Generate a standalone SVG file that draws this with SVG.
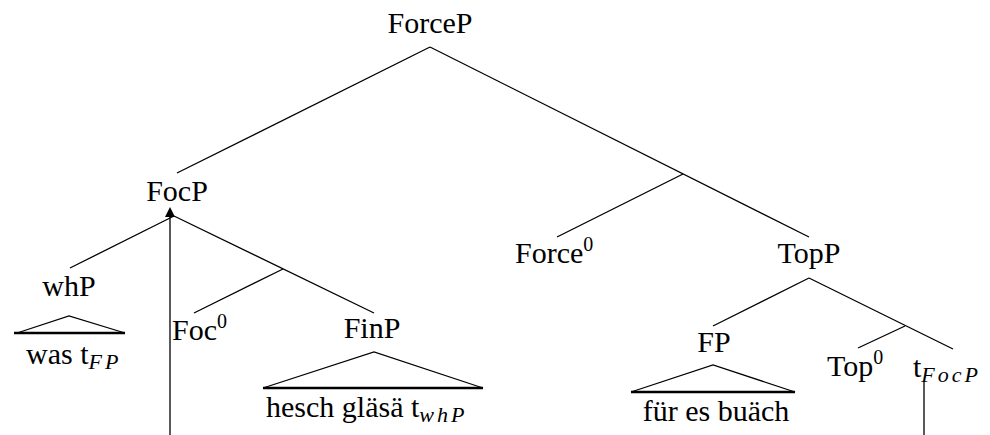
<svg xmlns="http://www.w3.org/2000/svg" width="990" height="435" viewBox="0 0 990 435">
<style>
text{font-size:30px;fill:#000;font-family:'Liberation Serif','Times New Roman',serif}
.sup{font-size:20px}
.sub{font-size:22px;font-style:italic;letter-spacing:3px}
line,polyline{stroke:#000;stroke-width:1.3;fill:none}
.base{stroke-width:2.4}
</style>
<rect width="990" height="435" fill="#fff"/>
<g id="connectors">
<line x1="430" y1="47" x2="177" y2="173"/>
<line x1="430" y1="47" x2="809" y2="237"/>
<line x1="683" y1="174" x2="557" y2="237"/>
<line x1="174" y1="216" x2="70" y2="268"/>
<line x1="174" y1="216" x2="374" y2="313"/>
<line x1="283" y1="269" x2="194" y2="313"/>
<line x1="809" y1="278" x2="713" y2="326"/>
<line x1="809" y1="278" x2="953" y2="349"/>
<line x1="905" y1="326" x2="858" y2="348"/>
<line x1="170" y1="435" x2="170" y2="214"/>
<polygon points="170,207 165,217 175,217" fill="#000"/>
<line x1="924" y1="382" x2="924" y2="435"/>
</g>
<g id="ForceP"><text x="430" y="33" text-anchor="middle">ForceP</text></g>
<g id="FocP"><text x="177" y="201" text-anchor="middle">FocP</text></g>
<g id="whP">
<text x="69" y="296" text-anchor="middle">whP</text>
<polyline points="17,333 69,316 125,333"/>
<line class="base" x1="14" y1="333" x2="125" y2="333"/>
<text x="26" y="364">was t<tspan class="sub" dy="5">FP</tspan></text>
</g>
<g id="Foc0"><text x="172" y="340">Foc<tspan class="sup" dy="-12">0</tspan></text></g>
<g id="FinP">
<text x="372" y="338" text-anchor="middle">FinP</text>
<polyline points="263,388 374,352 483,388"/>
<line class="base" x1="263" y1="388" x2="483" y2="388"/>
<text x="266" y="417">hesch gläsä t<tspan class="sub" dy="5">whP</tspan></text>
</g>
<g id="Force0"><text x="515" y="263">Force<tspan class="sup" dy="-12">0</tspan></text></g>
<g id="TopP"><text x="809" y="263" text-anchor="middle">TopP</text></g>
<g id="FP">
<text x="714" y="352" text-anchor="middle">FP</text>
<polyline points="631,392 713,365 795,392"/>
<line class="base" x1="631" y1="392" x2="795" y2="392"/>
<text x="716" y="421" text-anchor="middle">für es buäch</text>
</g>
<g id="Top0"><text x="827" y="376">Top<tspan class="sup" dy="-12">0</tspan></text></g>
<g id="tFocP"><text x="913" y="377">t<tspan class="sub" dy="5">FocP</tspan></text></g>
</svg>
